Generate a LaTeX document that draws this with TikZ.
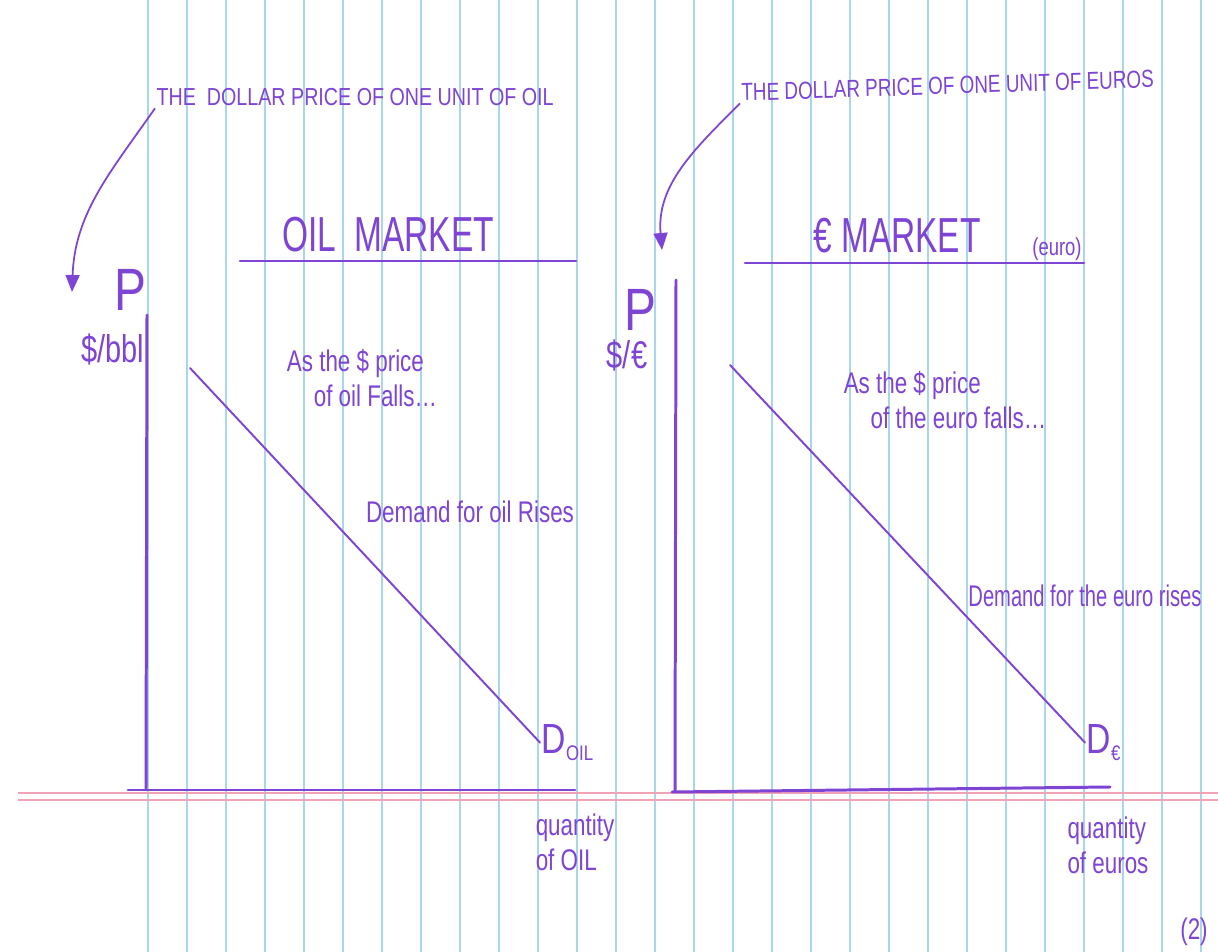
\documentclass[tikz,border=0pt]{standalone}
\usepackage{fontspec}
\setmainfont{Liberation Sans}
\usepackage{tikz}
\usetikzlibrary{arrows.meta,positioning}
\definecolor{penpurple}{HTML}{7E44D4}
\definecolor{ruleblue}{HTML}{A9D6EE}
\definecolor{marginred}{HTML}{F0A2B6}
\tikzset{
  mk/rule/.style={ruleblue, line width=0.6pt},
  mk/margin/.style={marginred, line width=0.7pt},
  mk/axis/.style={penpurple, line width=1.7pt, line cap=round},
  mk/demand/.style={penpurple, line width=1.1pt, line cap=round},
  mk/underline/.style={penpurple, line width=1.5pt, line cap=round},
  mk/pointer/.style={penpurple, line width=1pt, -{Triangle[length=3.4mm,width=2.8mm]}},
  mk/caps/.style={text=penpurple, font=\fontsize{14}{16}\selectfont, inner sep=1pt, xscale=0.8},
  mk/title/.style={text=penpurple, font=\fontsize{28}{30}\selectfont, inner sep=1pt, xscale=0.68},
  mk/price/.style={text=penpurple, font=\fontsize{34}{36}\selectfont, inner sep=1pt, xscale=0.8},
  mk/unit/.style={text=penpurple, font=\fontsize{22}{24}\selectfont, inner sep=1pt, xscale=0.75},
  mk/hand/.style={text=penpurple, font=\fontsize{17}{20}\selectfont, align=left, inner sep=1pt, xscale=0.75},
  mk/small/.style={text=penpurple, font=\fontsize{14}{16}\selectfont, inner sep=1pt, xscale=0.75},
  mk/curve/.style={text=penpurple, font=\fontsize{24}{26}\selectfont, inner sep=1pt, xscale=0.8}
}
\newcommand{\subtxt}[1]{\raisebox{-0.35ex}{\fontsize{12}{12}\selectfont #1}}

\begin{document}
\begin{tikzpicture}[x=0.02cm, y=-0.02cm]
  % paper
  \fill[white] (0,0) rectangle (1218,952);
  \useasboundingbox (0,0) rectangle (1218,952);
  \foreach \x in {148,187,...,1201}
    \draw[mk/rule] (\x,0) -- (\x,952);
  \draw[mk/margin] (18,793) -- (1218,793);
  \draw[mk/margin] (18,800) -- (1218,800);

  % oil market
  \coordinate (oiltop) at (147,315);
  \coordinate (oilorigin) at (146,790);
  \coordinate (oilleft) at (128,790);
  \coordinate (oilright) at (575,790);
  \coordinate (oildtop) at (190,368);
  \coordinate (oilpointer) at (72,292);
  \draw[mk/axis] (oiltop) -- (oilorigin);
  \draw[mk/axis] (oilleft) -- (oilright);

  \node[mk/caps, anchor=base west] (oilnote) at (155,106) {THE\ \ DOLLAR PRICE OF ONE UNIT OF OIL};
  \node[mk/title, anchor=base] (oiltitle) at (388,252) {OIL\ \ MARKET};
  \coordinate (oilulstart) at (240,261);
  \coordinate (oilulend) at (576,261);
  \draw[mk/underline] (oilulstart) -- (oilulend);

  \node[mk/price] (oilp) at (130,290) {P};
  \node[mk/unit] (oilunit) at (113,350) {\$/bbl};
  \draw[mk/pointer] (oilnote.south west) to[out=235, in=88] (oilpointer);

  \node[mk/hand] (oilfalls) at (362,378) {As the \$ price\\\hspace*{1.2em}of oil Falls\ldots};
  \node[mk/hand] (oilrises) at (470,512) {Demand for oil Rises};
  \node[mk/curve, anchor=north west] (oild) at (540,722) {D\subtxt{OIL}};
  \draw[mk/demand] (oildtop) -- (oild.west);
  \node[mk/hand, anchor=north] (oilqty) at (575,812) {quantity\\of OIL};

  % euro market
  \coordinate (eurtop) at (676,280);
  \coordinate (eurorigin) at (675,791);
  \coordinate (eurleft) at (672,792);
  \coordinate (eurright) at (1110,787);
  \coordinate (eurdtop) at (730,365);
  \coordinate (eurpointer) at (662,250);
  \draw[mk/axis] (eurtop) -- (eurorigin);
  \draw[mk/axis] (eurleft) -- (eurright);

  \node[mk/caps, anchor=base west, rotate=1.5, xscale=0.96] (eurnote) at (740,101) {THE DOLLAR PRICE OF ONE UNIT OF EUROS};
  \node[mk/title, anchor=base] (eurtitle) at (897,253) {€ MARKET};
  \node[mk/small, anchor=base] (eurword) at (1057,256) {(euro)};
  \coordinate (eurulstart) at (745,263);
  \coordinate (eurulend) at (1084,263);
  \draw[mk/underline] (eurulstart) -- (eurulend);

  \node[mk/price] (eurp) at (640,310) {P};
  \node[mk/unit] (eurunit) at (627,356) {\$/€};
  \draw[mk/pointer] (eurnote.south west) to[out=225, in=95] (eurpointer);

  \node[mk/hand] (eurfalls) at (945,400) {As the \$ price\\\hspace*{1.2em}of the euro falls\ldots};
  \node[mk/hand, xscale=0.9] (eurrises) at (1085,596) {Demand for the euro rises};
  \node[mk/curve, anchor=north west] (eurd) at (1085,722) {D\subtxt{€}};
  \draw[mk/demand] (eurdtop) -- (eurd.west);
  \node[mk/hand, anchor=north] (eurqty) at (1108,815) {quantity\\of euros};

  \node[mk/hand] (pagenum) at (1194,932) {(2)};
\end{tikzpicture}
\end{document}
